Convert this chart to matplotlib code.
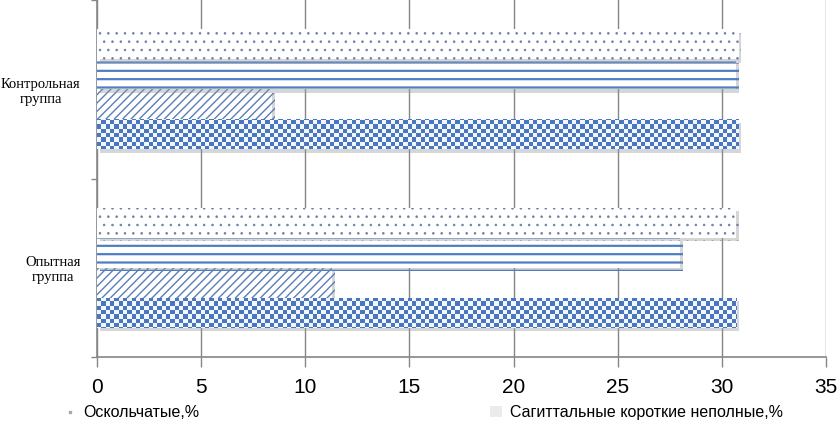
import numpy as np
import matplotlib
matplotlib.use("Agg")
import matplotlib.pyplot as plt
import matplotlib.patheffects as pe
from matplotlib.patches import Patch
from matplotlib.lines import Line2D

# data (bottom category first)
groups = ['Опытная\nгруппа', 'Контрольная\nгруппа']
checker_vals = [30.7, 30.8]
diag_vals = [11.3, 8.4]
lines_vals = [28.0, 30.7]
dots_vals = [30.7, 30.8]
legend_labels = ['Оскольчатые,%', 'Сагиттальные короткие неполные,%']
xticks = [0, 5, 10, 15, 20, 25, 30, 35]

sans = ['Liberation Sans', 'DejaVu Sans']
serif = ['Liberation Serif', 'DejaVu Serif']
blue = '#4a76c0'
grid_c = '#868686'

fig = plt.figure(figsize=(8.4, 4.24), dpi=100)
ax = fig.add_axes([97 / 840, 1 - 357 / 424, 729 / 840, 357 / 424])

y = np.arange(len(groups))
h = 0.168
shadow = [pe.SimplePatchShadow(offset=(2, -2.5), shadow_rgbFace='#999999', alpha=0.4), pe.Normal()]

with plt.rc_context({'hatch.linewidth': 1.0}):
    checker = ax.barh(y - 1.5 * h, checker_vals, height=h, color='white', linewidth=0, zorder=3)
    diag = ax.barh(y - 0.5 * h, diag_vals, height=h, color='white', edgecolor='#5a7fb8',
                   hatch='////', linewidth=0, zorder=3)
with plt.rc_context({'hatch.linewidth': 1.6}):
    lines = ax.barh(y + 0.5 * h, lines_vals, height=h, color='white', edgecolor='#4f7fc0',
                    hatch='--', linewidth=0, zorder=3)
with plt.rc_context({'hatch.linewidth': 0.6}):
    dots = ax.barh(y + 1.5 * h, dots_vals, height=h, color='white', edgecolor='#6a80a6',
                   hatch='..', linewidth=0, zorder=3)

for b in list(checker) + list(diag) + list(lines) + list(dots):
    b.set_path_effects(shadow)

# checkerboard texture clipped to the bars
sq = 4.3
nc, nr = int(729 / sq), int(357 / sq)
board = (np.add.outer(np.arange(nr), np.arange(nc)) % 2).astype(float)
cmap = matplotlib.colors.ListedColormap(['#f2f7fd', blue])
for b in checker:
    im = ax.imshow(board, cmap=cmap, extent=[0, 1, 0, 1], transform=ax.transAxes,
                   aspect='auto', interpolation='nearest', zorder=4)
    im.set_clip_path(b)

ax.set_xlim(0, 35)
ax.set_ylim(-0.5, len(groups) - 0.5)
ax.set_xticks(xticks)
ax.set_xticklabels([str(t) for t in xticks], fontsize=15, family=sans)
ax.tick_params(axis='x', length=7, width=1, color=grid_c, pad=8)
ax.set_yticks(np.arange(len(groups) + 1) - 0.5)
ax.set_yticklabels([])
ax.tick_params(axis='y', length=4, width=1, color=grid_c)
ax.set_yticks(y, minor=True)
ax.set_yticklabels(groups, minor=True, fontsize=10.5, family=serif)
ax.tick_params(axis='y', which='minor', length=0, pad=12)
for t in ax.get_yticklabels(minor=True):
    t.set_multialignment('center')

ax.grid(axis='x', color=grid_c, linewidth=1)
ax.set_axisbelow(True)
for s in ['top', 'right']:
    ax.spines[s].set_visible(False)
for s in ['left', 'bottom']:
    ax.spines[s].set_color(grid_c)
    ax.spines[s].set_linewidth(1.2)

handles = [Line2D([], [], marker='s', markersize=2, color='#a8a8a8', linestyle='none'),
           Patch(facecolor='#ebebeb', edgecolor='none')]
fig.legend(handles, legend_labels, loc='upper left', bbox_to_anchor=(58 / 840, 1 - 399 / 424),
           ncol=2, frameon=False, prop={'family': sans, 'size': 11.5},
           handlelength=0.7, handletextpad=0.5, columnspacing=18.2, borderaxespad=0)

fig.savefig('out.png', dpi=100)
